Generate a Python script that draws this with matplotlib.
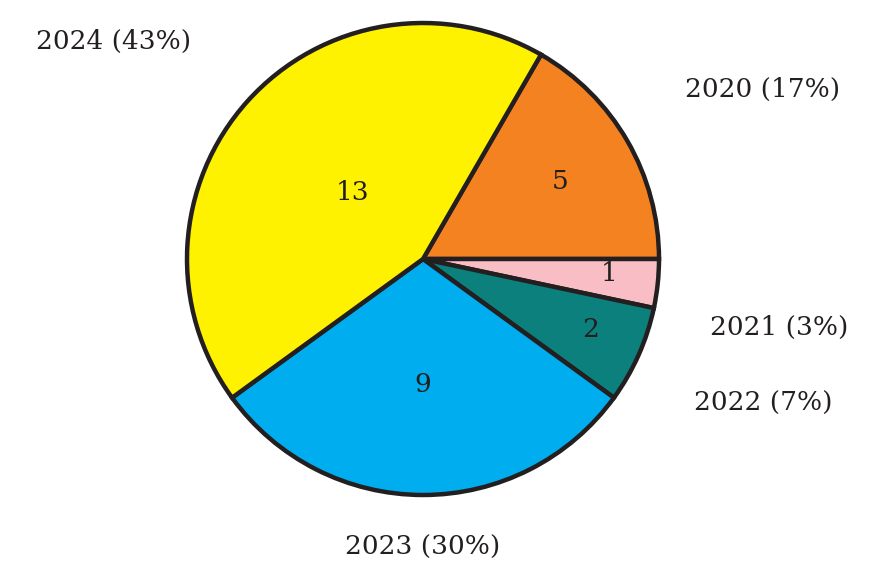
import matplotlib.pyplot as plt

years = ['2020', '2021', '2022', '2023', '2024']
counts = [5, 1, 2, 9, 13]
colors = ['#F58220', '#F9BEC5', '#0B807C', '#00ADEE', '#FFF200']

# label positions (pie radius = 1)
label_pos = [(1.44, 0.72), (1.51, -0.29), (1.44, -0.61), (0.0, -1.22), (-1.31, 0.92)]
value_pos = [(0.58, 0.33), (0.79, -0.06), (0.71, -0.30), (0.0, -0.53), (-0.30, 0.28)]

total = sum(counts)

fig = plt.figure(figsize=(8.79, 5.79), dpi=100)
ax = fig.add_axes([0, 0, 1, 1])
wedges, texts = ax.pie(counts, colors=colors, startangle=60, counterclock=False,
                       wedgeprops=dict(edgecolor='#231F20', linewidth=3.2))

for (x, y), yr, c in zip(label_pos, years, counts):
    ax.text(x, y, f'{yr} ({round(c / total * 100)}%)', ha='center', va='center',
            fontsize=19, family='DejaVu Serif', color='#231F20')
for (x, y), c in zip(value_pos, counts):
    ax.text(x, y, str(c), ha='center', va='center', fontsize=19,
            family='DejaVu Serif', color='#231F20')

ax.set_xlim(-423 / 236, (879 - 423) / 236)
ax.set_ylim(-(579 - 259) / 236, 259 / 236)
ax.set_aspect('auto')
ax.axis('off')

fig.savefig('out.png', dpi=100)
